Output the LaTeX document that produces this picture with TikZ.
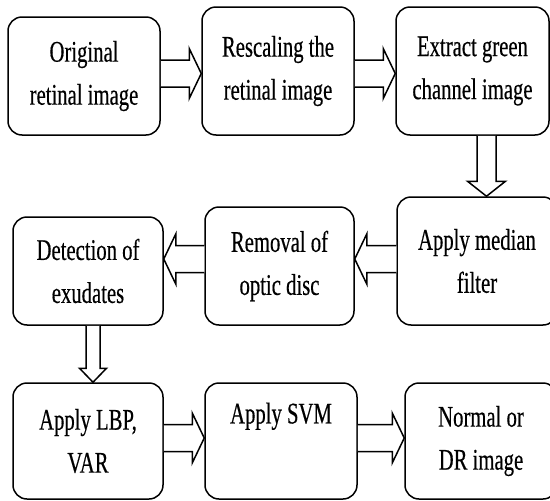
\documentclass[tikz,border=0pt]{standalone}
\usepackage{fontspec}
\setmainfont{Liberation Serif}[FakeStretch=0.69, FakeBold=0.4]
\usepackage{tikz}
\usetikzlibrary{calc}

\tikzset{
  box/.style={draw, line width=1.5pt, rounded corners=14pt, align=center, inner sep=0pt,
    font=\fontsize{30pt}{43pt}\selectfont},
  blockarrow/.style={draw, line width=1.5pt, fill=white, line join=miter}
}

% hollow block arrows between boxes
\newcommand{\rightblock}[3]{% from, to, y
  \draw[blockarrow] let \p1=(#1.east), \p2=(#2.west) in
    (\x1,-#3pt+13.5pt) -- (\x2-12pt,-#3pt+13.5pt) -- (\x2-12pt,-#3pt+25pt) -- (\x2,-#3pt)
    -- (\x2-12pt,-#3pt-25pt) -- (\x2-12pt,-#3pt-13.5pt) -- (\x1,-#3pt-13.5pt);}
\newcommand{\leftblock}[3]{% from, to, y
  \draw[blockarrow] let \p1=(#1.west), \p2=(#2.east) in
    (\x1,-#3pt+13.5pt) -- (\x2+12pt,-#3pt+13.5pt) -- (\x2+12pt,-#3pt+25pt) -- (\x2,-#3pt)
    -- (\x2+12pt,-#3pt-25pt) -- (\x2+12pt,-#3pt-13.5pt) -- (\x1,-#3pt-13.5pt);}
\newcommand{\downblock}[6]{% from, to, x, shaft, head, head length
  \draw[blockarrow] let \p1=(#1.south), \p2=(#2.north) in
    (#3pt-#4pt,\y1) -- (#3pt-#4pt,\y2+#6pt) -- (#3pt-#5pt,\y2+#6pt) -- (#3pt,\y2)
    -- (#3pt+#5pt,\y2+#6pt) -- (#3pt+#4pt,\y2+#6pt) -- (#3pt+#4pt,\y1);}

\begin{document}
\begin{tikzpicture}[x=1pt, y=-1pt]
\useasboundingbox (0,0) rectangle (550,501);
\clip (0,0) rectangle (550,501);

% first row
\node[box, minimum width=152pt, minimum height=118pt] (orig) at (84,76) {Original\\retinal image};
\node[box, minimum width=152pt, minimum height=128pt] (rescale) at (278,71) {Rescaling the\\retinal image};
\node[box, minimum width=153pt, minimum height=128pt] (extract) at (472.5,71) {Extract green\\channel image};

% second row
\node[box, minimum width=160pt, minimum height=128pt] (median) at (477,261) {Apply median\\filter};
\node[box, minimum width=149pt, minimum height=118pt] (removal) at (279.5,266) {Removal of\\optic disc};
\node[box, minimum width=150pt, minimum height=108pt] (detect) at (88,271) {Detection of\\exudates};

% third row
\node[box, minimum width=150pt, minimum height=116pt] (lbp) at (88,441) {Apply LBP,\\VAR};
\node[box, minimum width=152pt, minimum height=116pt] (svm) at (281,441) {Apply SVM\\\strut};
\node[box, minimum width=152pt, minimum height=116pt] (normal) at (481,441) {Normal or\\DR image};

% arrows
\rightblock{orig}{rescale}{73.5}
\rightblock{rescale}{extract}{73.5}
\downblock{extract}{median}{486.5}{9.5}{19}{15}
\leftblock{median}{removal}{259}
\leftblock{removal}{detect}{259}
\downblock{detect}{lbp}{93}{7}{13.5}{14}
\rightblock{lbp}{svm}{438}
\rightblock{svm}{normal}{438}
\end{tikzpicture}
\end{document}
